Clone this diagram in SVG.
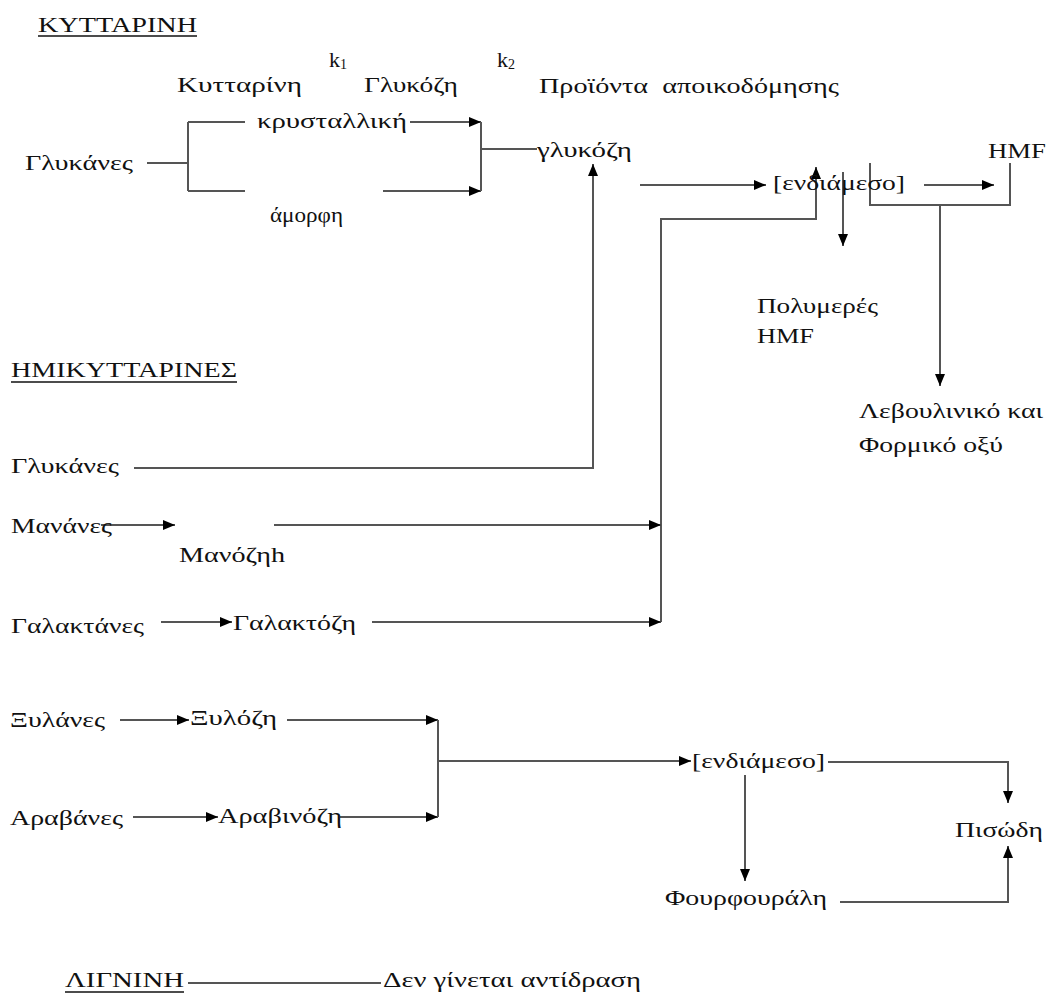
<svg xmlns="http://www.w3.org/2000/svg" width="1051" height="999" viewBox="0 0 1051 999">
<style>
text{font-family:"Liberation Serif","DejaVu Serif","Noto Serif",serif;font-size:22px;fill:#111}
.c path{fill:none;stroke:#555;stroke-width:2}
.a{marker-end:url(#ah)}
.ul{stroke:#111;stroke-width:1.6}
.sub{font-size:14px}
</style>
<defs>
<marker id="ah" markerUnits="userSpaceOnUse" markerWidth="12" markerHeight="10" refX="12" refY="5" orient="auto">
<path d="M0,0 L12,5 L0,10 z" fill="#000"/>
</marker>
</defs>
<rect width="1051" height="999" fill="#fff"/>
<g id="connectors" class="c">
<path d="M147,163 H188"/>
<path d="M188,122 V191"/>
<path d="M188,122 H245"/>
<path d="M188,191 H245"/>
<path class="a" d="M410,122 H481"/>
<path class="a" d="M383,191 H481"/>
<path d="M481,122 V191"/>
<path d="M481,149 H537"/>
<path class="a" d="M134,468 H593 V164"/>
<path class="a" d="M640,185 H766"/>
<path class="a" d="M661,622 V219 H816 V167"/>
<path class="a" d="M101,525 H175"/>
<path class="a" d="M274,525 H661"/>
<path class="a" d="M161,622 H232"/>
<path class="a" d="M372,622 H661"/>
<path class="a" d="M843,172 V246"/>
<path d="M870,163 V205 H1010 V163"/>
<path class="a" d="M924,185 H994"/>
<path class="a" d="M940,205 V386"/>
<path class="a" d="M120,720 H189"/>
<path class="a" d="M287,720 H438"/>
<path class="a" d="M133,817 H218"/>
<path class="a" d="M340,817 H438"/>
<path d="M438,720 V817"/>
<path class="a" d="M438,761 H691"/>
<path class="a" d="M828,762 H1008 V803"/>
<path class="a" d="M745,775 V881"/>
<path class="a" d="M840,902 H1008 V846"/>
<path d="M188,983 H381"/>
</g>
<g id="title-kyttarini"><text x="38" y="32" textLength="159" lengthAdjust="spacingAndGlyphs">ΚΥΤΤΑΡΙΝΗ</text><line class="ul" x1="38" y1="36" x2="197" y2="36"/></g>
<g id="k1"><text x="329" y="67">k<tspan class="sub" dy="2">1</tspan></text></g>
<g id="label-kyttarini"><text x="177" y="92" textLength="125" lengthAdjust="spacingAndGlyphs">Κυτταρίνη</text></g>
<g id="label-glykozi"><text x="364" y="92" textLength="94" lengthAdjust="spacingAndGlyphs">Γλυκόζη</text></g>
<g id="k2"><text x="497" y="67">k<tspan class="sub" dy="2">2</tspan></text></g>
<g id="label-proionta"><text x="539" y="93" textLength="300" lengthAdjust="spacingAndGlyphs" style="white-space:pre">Προϊόντα  αποικοδόμησης</text></g>
<g id="krystalliki"><text x="257" y="128" textLength="150" lengthAdjust="spacingAndGlyphs">κρυσταλλική</text></g>
<g id="glykanes1"><text x="25" y="170" textLength="108" lengthAdjust="spacingAndGlyphs">Γλυκάνες</text></g>
<g id="amorfi"><text x="270" y="222" textLength="73" lengthAdjust="spacingAndGlyphs">άμορφη</text></g>
<g id="glykozi"><text x="537" y="157" textLength="95" lengthAdjust="spacingAndGlyphs">γλυκόζη</text></g>
<g id="endiameso1"><text x="773" y="190" textLength="132" lengthAdjust="spacingAndGlyphs">[ενδιάμεσο]</text></g>
<g id="hmf"><text x="988" y="158" textLength="58" lengthAdjust="spacingAndGlyphs">HMF</text></g>
<g id="polymeres"><text x="757" y="313" textLength="121" lengthAdjust="spacingAndGlyphs">Πολυμερές</text><text x="757" y="343" textLength="57" lengthAdjust="spacingAndGlyphs">HMF</text></g>
<g id="levoulinikο"><text x="859" y="418" textLength="184" lengthAdjust="spacingAndGlyphs">Λεβουλινικό και</text><text x="859" y="452" textLength="144" lengthAdjust="spacingAndGlyphs">Φορμικό οξύ</text></g>
<g id="title-imikyttarines"><text x="11" y="377" textLength="226" lengthAdjust="spacingAndGlyphs">ΗΜΙΚΥΤΤΑΡΙΝΕΣ</text><line class="ul" x1="11" y1="382" x2="237" y2="382"/></g>
<g id="glykanes2"><text x="11" y="473" textLength="108" lengthAdjust="spacingAndGlyphs">Γλυκάνες</text></g>
<g id="mananes"><text x="11" y="533" textLength="101" lengthAdjust="spacingAndGlyphs">Μανάνες</text></g>
<g id="manozi"><text x="179" y="562" textLength="106" lengthAdjust="spacingAndGlyphs">Μανόζηh</text></g>
<g id="galaktanes"><text x="11" y="633" textLength="133" lengthAdjust="spacingAndGlyphs">Γαλακτάνες</text></g>
<g id="galaktozi"><text x="233" y="630" textLength="123" lengthAdjust="spacingAndGlyphs">Γαλακτόζη</text></g>
<g id="xylanes"><text x="10" y="727" textLength="95" lengthAdjust="spacingAndGlyphs">Ξυλάνες</text></g>
<g id="xylozi"><text x="190" y="725" textLength="87" lengthAdjust="spacingAndGlyphs">Ξυλόζη</text></g>
<g id="aravanes"><text x="10" y="825" textLength="113" lengthAdjust="spacingAndGlyphs">Αραβάνες</text></g>
<g id="aravinozi"><text x="218" y="823" textLength="124" lengthAdjust="spacingAndGlyphs">Αραβινόζη</text></g>
<g id="endiameso2"><text x="692" y="768" textLength="133" lengthAdjust="spacingAndGlyphs">[ενδιάμεσο]</text></g>
<g id="pisodi"><text x="955" y="837" textLength="88" lengthAdjust="spacingAndGlyphs">Πισώδη</text></g>
<g id="fourfourali"><text x="665" y="905" textLength="162" lengthAdjust="spacingAndGlyphs">Φουρφουράλη</text></g>
<g id="title-ligníni"><text x="65" y="987" textLength="119" lengthAdjust="spacingAndGlyphs">ΛΙΓΝΙΝΗ</text><line class="ul" x1="65" y1="992" x2="184" y2="992"/></g>
<g id="no-reaction"><text x="383" y="987" textLength="258" lengthAdjust="spacingAndGlyphs">Δεν γίνεται αντίδραση</text></g>
</svg>
